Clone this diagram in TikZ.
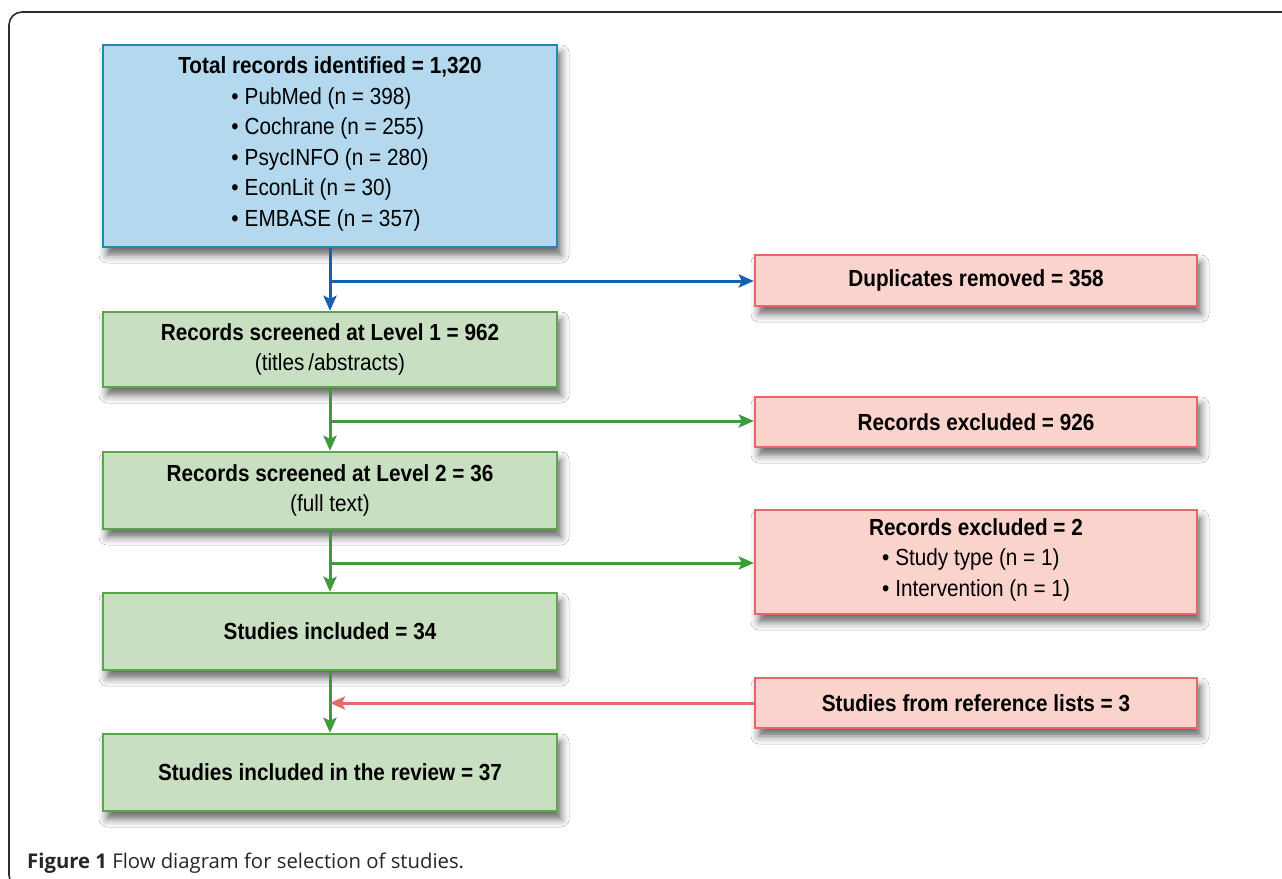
\documentclass[tikz,border=0pt]{standalone}
\usepackage{fontspec}
\setmainfont{Liberation Sans}[FakeStretch=0.89]
\newfontfamily\capfont{Open Sans}
\usetikzlibrary{arrows.meta,shadows.blur}
\definecolor{blueFill}{RGB}{180,217,238}
\definecolor{blueBorder}{RGB}{30,140,178}
\definecolor{blueArrow}{RGB}{22,96,178}
\definecolor{greenFill}{RGB}{201,223,194}
\definecolor{greenBorder}{RGB}{90,166,74}
\definecolor{greenArrow}{RGB}{62,154,58}
\definecolor{pinkFill}{RGB}{250,212,204}
\definecolor{pinkBorder}{RGB}{232,102,104}
\definecolor{redArrow}{RGB}{234,104,104}
\definecolor{frameGray}{RGB}{45,45,45}
\begin{document}
\begin{tikzpicture}[x=1pt,y=-1pt,
  box/.style={draw, line width=2.4pt, inner sep=0pt, align=center,
    font=\fontsize{23.3}{30.5}\selectfont,
    blur shadow={shadow xshift=4pt, shadow yshift=-8pt, shadow blur radius=8pt, shadow opacity=60}},
  bluebox/.style={box, fill=blueFill, draw=blueBorder},
  greenbox/.style={box, fill=greenFill, draw=greenBorder, minimum width=454pt},
  pinkbox/.style={box, fill=pinkFill, draw=pinkBorder, minimum width=442pt},
  conn/.style={line width=3pt, -{Stealth[length=15pt,width=13pt,inset=3pt]}},
  bluearr/.style={conn, draw=blueArrow, fill=blueArrow},
  greenarr/.style={conn, draw=greenArrow, fill=greenArrow},
  redarr/.style={conn, draw=redArrow, fill=redArrow}]
\useasboundingbox (0,0) rectangle (1282,878);
\fill[white] (0,0) rectangle (1282,878);
\draw[frameGray, line width=1.6pt, rounded corners=13pt] (9,888) rectangle (1300,12);

% left column
\node[bluebox, minimum width=454pt, minimum height=202pt] (tot) at (330,146)
  {\textbf{Total records identified = 1,320}\\
   \begin{tabular}[t]{@{}l@{}}
   •\hspace{6pt}PubMed (n = 398)\\
   •\hspace{6pt}Cochrane (n = 255)\\
   •\hspace{6pt}PsycINFO (n = 280)\\
   •\hspace{6pt}EconLit (n = 30)\\
   •\hspace{6pt}EMBASE (n = 357)
   \end{tabular}};
\node[greenbox, minimum height=75pt] (l1) at (330,349.5)
  {\textbf{Records screened at Level 1 = 962}\\(titles\,/abstracts)};
\node[greenbox, minimum height=77pt] (l2) at (330,490.5)
  {\textbf{Records screened at Level 2 = 36}\\(full text)};
\node[greenbox, minimum height=77pt] (inc) at (330,631.5)
  {\textbf{Studies included = 34}};
\node[greenbox, minimum height=77pt] (rev) at (330,772.5)
  {\textbf{Studies included in the review = 37}};

% right column
\node[pinkbox, minimum height=51pt] (dup) at (976,280.5)
  {\textbf{Duplicates removed = 358}};
\node[pinkbox, minimum height=50pt] (ex1) at (976,422)
  {\textbf{Records excluded = 926}};
\node[pinkbox, minimum height=104pt] (ex2) at (976,562)
  {\textbf{Records excluded = 2}\\
   \begin{tabular}[t]{@{}l@{}}
   •\hspace{6pt}Study type (n = 1)\\
   •\hspace{6pt}Intervention (n = 1)
   \end{tabular}};
\node[pinkbox, minimum height=50pt] (ref) at (976,703)
  {\textbf{Studies from reference lists = 3}};

% branch points
\coordinate (b1) at (330,281);
\coordinate (b2) at (330,421);
\coordinate (b3) at (330,563);
\coordinate (b4) at (330,703);

% connectors
\draw[bluearr] (tot.south) -- (l1.north);
\draw[bluearr] (b1) -- (b1 -| dup.west);
\draw[greenarr] (l1.south) -- (l2.north);
\draw[greenarr] (b2) -- (b2 -| ex1.west);
\draw[greenarr] (l2.south) -- (inc.north);
\draw[greenarr] (b3) -- (b3 -| ex2.west);
\draw[greenarr] (inc.south) -- (rev.north);
\draw[redarr] (ref.west) -- (b4);

% caption
\node[anchor=base west, inner sep=0pt, font=\capfont\fontsize{20.3}{24}\selectfont, text=black!85] (cap) at (27,868)
  {\textbf{Figure 1} Flow diagram for selection of studies.};
\end{tikzpicture}
\end{document}
